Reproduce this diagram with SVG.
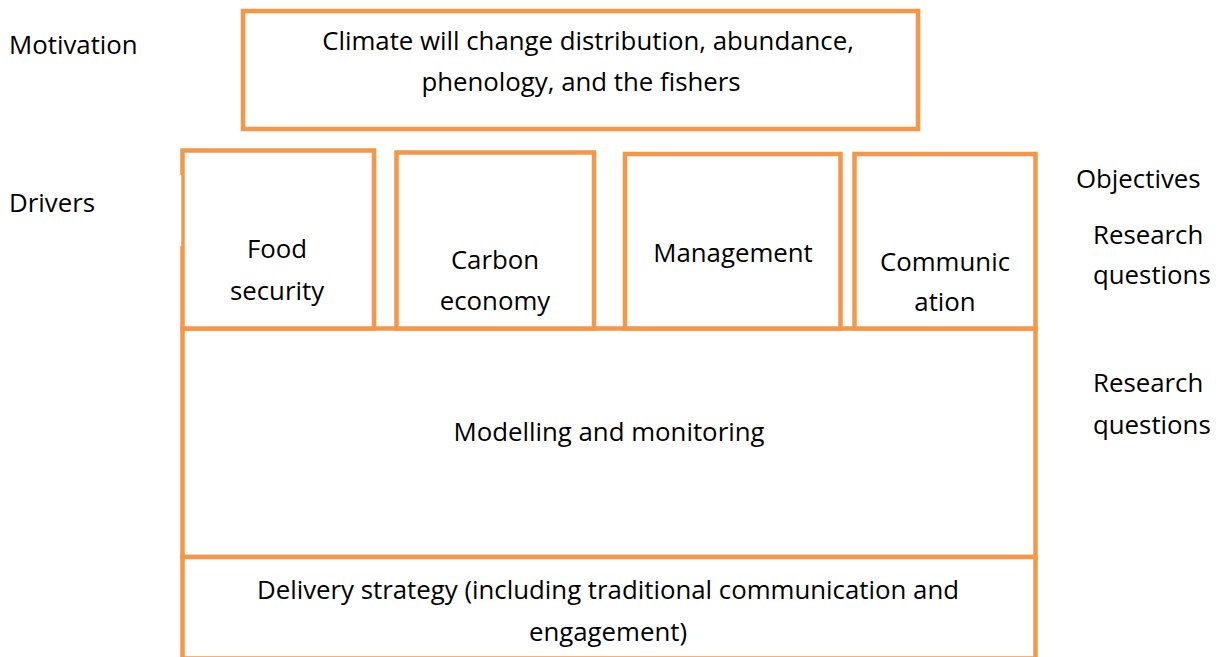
<svg xmlns="http://www.w3.org/2000/svg" width="1222" height="657" viewBox="0 0 1222 657">
<style>
.box{fill:#fff;stroke:#F79646;stroke-width:4.5}
text{font-family:"Open Sans","Noto Sans",sans-serif;font-size:25.8px;fill:#000}
.c{text-anchor:middle}
</style>
<rect width="1222" height="657" fill="#fff"/>
<g id="labels">
<text x="9" y="54">Motivation</text>
<text x="9" y="212">Drivers</text>
<text x="1076" y="188">Objectives</text>
<text x="1093" y="244">Research</text>
<text x="1093" y="284">questions</text>
<text x="1093" y="392">Research</text>
<text x="1093" y="434">questions</text>
</g>
<g id="motivation">
<rect class="box" x="243" y="11" width="675" height="118"/>
<text class="c" x="588" y="50">Climate will change distribution, abundance,</text>
<text class="c" x="581" y="91">phenology, and the fishers</text>
</g>
<g id="modelling">
<rect class="box" x="182.5" y="328.5" width="853" height="228.5"/>
<text class="c" x="609" y="441">Modelling and monitoring</text>
</g>
<g id="delivery">
<rect class="box" x="182.5" y="557" width="853" height="101.5"/>
<text class="c" x="608" y="599">Delivery strategy (including traditional communication and</text>
<text class="c" x="608" y="641">engagement)</text>
</g>
<g id="food">
<rect class="box" x="182.5" y="150.5" width="191.5" height="178"/>
<rect x="179.5" y="175" width="1.8" height="71" fill="#fff"/>
<text class="c" x="277" y="258">Food</text>
<text class="c" x="277" y="300">security</text>
</g>
<g id="carbon">
<rect class="box" x="396.5" y="152.5" width="197.5" height="176"/>
<text class="c" x="495" y="269">Carbon</text>
<text class="c" x="495" y="310">economy</text>
</g>
<g id="management">
<rect class="box" x="625" y="154" width="215.5" height="174.5"/>
<text class="c" x="733" y="262">Management</text>
</g>
<g id="communication">
<rect class="box" x="854.5" y="154" width="181" height="174.5"/>
<text class="c" x="945" y="271">Communic</text>
<text class="c" x="945" y="311">ation</text>
</g>
<g id="connectors"></g>
</svg>
